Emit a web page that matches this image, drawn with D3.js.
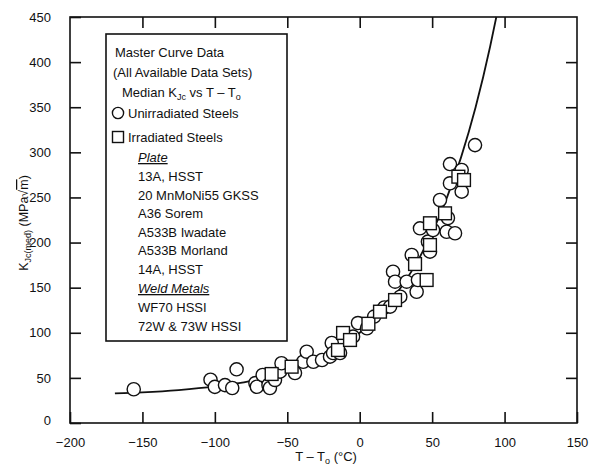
<!DOCTYPE html>
<html><head><meta charset="utf-8">
<script src="https://cdn.jsdelivr.net/npm/d3@7"></script>
<style>
body{margin:0;background:#fff;}
text{font-family:"Liberation Sans",Arial,Helvetica,sans-serif;fill:#111;}
</style></head>
<body><svg id="chart" width="589" height="469"></svg>
<script>
// ---- data ----
const unirrT = [-156,-103,-100,-93,-88,-85,-72,-71,-67,-63,-62,-58.5,-55,-54,-44.7,-39,-36.6,-32,-26,-20.5,-19.3,-18.4,-13.6,-4.6,-1.2,5,10,17,21,28,23,24.4,32.4,39.3,40.2,35.9,47.1,48.5,41.6,50.6,60,65.8,55.4,60.9,62.3,70.4,62.3,70.4,79.6];
const unirrK = [37.4,48,40,42,38.8,59.5,44.3,40.2,53.2,42.1,38.8,47.7,56.9,66.2,55.4,67.9,79,67.9,69.8,73.5,88.7,77.6,77.6,95.7,110.8,105,118,128,129,140,167.7,156.6,156.6,145.5,158.5,186.2,201,189.9,215.8,213.9,212,210.3,247.2,227.2,287,280.4,265.7,256.4,308];
const irrT = [-60.8,-47,-15,-11.5,-6.7,6,14,24.4,38.2,46.2,48.5,48.5,58.9,68.1,72];
const irrK = [54.3,62.4,80.9,99.8,92,110,123.4,136.3,176.2,158.5,197.3,221.4,232.4,273,269.3];
const curveT = [-169,-150,-125,-100,-75,-50,-25,0,10,20,30,40,50,60,70,80,90,94.3];
const curveK = [32.8,34.0,36.5,40.5,46.8,57.1,73.5,100,114.6,132.4,153.8,179.7,211.0,248.9,294.7,350.0,417.0,450];
const xTicks = [-200,-150,-100,-50,0,50,100,150];
const yTicks = [0,50,100,150,200,250,300,350,400,450];
const legendLines = ["13A, HSST","20 MnMoNi55 GKSS","A36 Sorem","A533B Iwadate","A533B Morland","14A, HSST"];
const weldLines = ["WF70 HSSI","72W & 73W HSSI"];

// ---- layout ----
const L=70, R=577, T=17, B=423;
const svg=d3.select("#chart");
const x=d3.scaleLinear().domain([-200,150]).range([L,R]);
const y=d3.scaleLinear().domain([0,450]).range([B,T]);
const tk=11;

// frame
svg.append("rect").attr("x",L).attr("y",T).attr("width",R-L).attr("height",B-T)
  .attr("fill","none").attr("stroke","#111").attr("stroke-width",1.6);

function styleAxis(g){
  g.select(".domain").remove();
  g.selectAll("line").attr("stroke","#111").attr("stroke-width",1.6);
  g.selectAll("text").attr("font-size",13).style("font-family","Liberation Sans, Arial, sans-serif").attr("fill","#111");
}
const ax=svg.append("g").attr("transform",`translate(0,${B})`)
  .call(d3.axisBottom(x).tickValues(xTicks).tickSize(-tk).tickFormat(d=>d<0?"\u2212"+(-d):d).tickPadding(tk+4));
styleAxis(ax);
const axT=svg.append("g").attr("transform",`translate(0,${T})`)
  .call(d3.axisTop(x).tickValues(xTicks.slice(1,-1)).tickSize(-tk).tickFormat(""));
styleAxis(axT);
const ay=svg.append("g").attr("transform",`translate(${L},0)`)
  .call(d3.axisLeft(y).tickValues(yTicks).tickSize(-tk).tickPadding(tk+8));
styleAxis(ay);
ay.selectAll(".tick").filter(d=>d===0).select("text").attr("dy","0.15em");
const ayR=svg.append("g").attr("transform",`translate(${R},0)`)
  .call(d3.axisRight(y).tickValues(yTicks.slice(1,-1)).tickSize(-tk).tickFormat(""));
styleAxis(ayR);

// curve
const cdata=curveT.map((t,i)=>[t,curveK[i]]);
svg.append("path").datum(cdata).attr("fill","none").attr("stroke","#111").attr("stroke-width",1.8)
  .attr("d",d3.line().x(d=>x(d[0])).y(d=>y(d[1])).curve(d3.curveMonotoneX));

// markers
const ud=unirrT.map((t,i)=>[t,unirrK[i]]);
const id=irrT.map((t,i)=>[t,irrK[i]]);
svg.append("g").selectAll("circle").data(ud).join("circle")
  .attr("cx",d=>x(d[0])).attr("cy",d=>y(d[1])).attr("r",6.6)
  .attr("fill","#fff").attr("stroke","#111").attr("stroke-width",1.4);
const s=12.8;
svg.append("g").selectAll("rect").data(id).join("rect")
  .attr("x",d=>x(d[0])-s/2).attr("y",d=>y(d[1])-s/2).attr("width",s).attr("height",s)
  .attr("fill","#fff").attr("stroke","#111").attr("stroke-width",1.4);

// legend
const lg=svg.append("g");
lg.append("rect").attr("x",106).attr("y",34).attr("width",181).attr("height",307)
  .attr("fill","#fff").attr("stroke","#111").attr("stroke-width",1.6);
const fs=13;
function t(xp,yp,str){return lg.append("text").attr("x",xp).attr("y",yp).attr("font-size",fs).text(str);}
t(115,57,"Master Curve Data");
t(113,77,"(All Available Data Sets)");
const m=lg.append("text").attr("x",122).attr("y",97).attr("font-size",fs);
m.append("tspan").text("Median K");
m.append("tspan").attr("font-size",9).attr("dy",3).text("Jc");
m.append("tspan").attr("dy",-3).text(" vs T \u2013 T");
m.append("tspan").attr("font-size",9).attr("dy",3).text("o");
lg.append("circle").attr("cx",118).attr("cy",113).attr("r",5.6).attr("fill","#fff").attr("stroke","#111").attr("stroke-width",1.4);
t(128,118,"Unirradiated Steels");
lg.append("rect").attr("x",112.5).attr("y",131.5).attr("width",11).attr("height",11).attr("fill","#fff").attr("stroke","#111").attr("stroke-width",1.4);
t(128,142,"Irradiated Steels");
t(138,162,"Plate").attr("font-style","italic").attr("text-decoration","underline");
legendLines.forEach((d,i)=>t(138,181+i*18.6,d));
t(138,293,"Weld Metals").attr("font-style","italic").attr("text-decoration","underline");
weldLines.forEach((d,i)=>t(138,312+i*18.6,d));

// axis titles
const xl=svg.append("text").attr("x",326).attr("y",461).attr("text-anchor","middle").attr("font-size",13);
xl.append("tspan").text("T \u2013 T");
xl.append("tspan").attr("font-size",9).attr("dy",3).text("o");
xl.append("tspan").attr("dy",-3).text(" (\u00B0C)");
const yl=svg.append("text").attr("transform","translate(28,223) rotate(-90)").attr("text-anchor","middle").attr("font-size",12.5);
yl.append("tspan").text("K");
yl.append("tspan").attr("font-size",9).attr("dy",3).text("Jc(med)");
yl.append("tspan").attr("dy",-3).text(" (MPa\u221A");
yl.append("tspan").style("text-decoration","overline").text("m");
yl.append("tspan").text(")");
</script></body></html>
